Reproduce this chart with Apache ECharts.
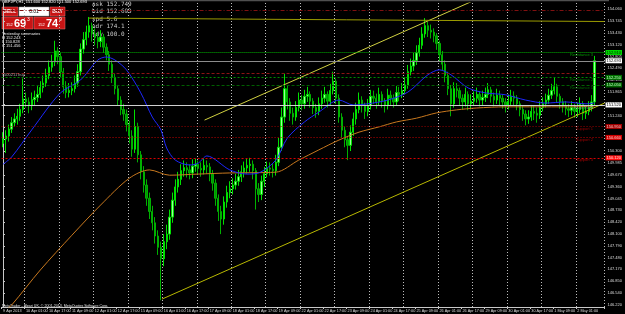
<!DOCTYPE html>
<html><head><meta charset="utf-8">
<script src="https://cdn.jsdelivr.net/npm/echarts@6/dist/echarts.min.js"></script>
<style>html,body{margin:0;padding:0;background:#000;}#c{width:625px;height:314px;}</style>
</head><body><div id="c"></div><script>
// ---------- DATA ----------
const tradingDays = ['9 Apr','10 Apr','11 Apr','12 Apr','15 Apr','16 Apr','17 Apr','18 Apr','19 Apr','22 Apr','23 Apr','24 Apr','25 Apr','26 Apr','29 Apr','30 Apr','1 May','2 May'];
const firstLabel = '9 Apr 2013';

const openP = [150.50,150.62,150.70,150.88,151.05,151.15,151.22,151.40,151.68,151.60,
151.50,151.66,151.72,151.80,151.98,152.10,152.30,152.52,152.66,152.95,
152.80,152.40,152.00,151.85,151.90,151.95,152.10,152.40,153.00,153.25,
153.45,153.62,153.40,153.30,153.20,153.32,153.05,152.85,152.60,152.25,
151.95,151.65,151.40,151.28,151.00,150.70,150.35,150.95,150.20,149.75,
149.40,149.05,148.70,148.40,148.05,147.75,147.45,147.90,148.10,148.55,
149.00,149.35,149.55,149.78,149.86,149.80,149.72,149.90,149.95,149.84,
149.80,149.92,149.88,149.70,149.45,149.05,148.70,148.50,148.95,149.20,
149.30,149.40,149.50,149.62,149.75,149.85,149.92,149.95,149.78,149.30,
149.15,149.50,149.70,149.85,149.82,149.78,150.00,150.40,151.20,151.95,
151.60,151.30,151.20,151.45,151.65,151.55,151.75,151.80,151.62,151.45,
151.35,151.55,151.70,151.80,151.62,151.90,152.15,151.70,151.20,150.85,
150.60,150.45,150.80,151.15,151.40,151.65,151.50,151.35,151.50,151.75,
151.70,151.60,151.80,151.62,151.50,151.78,151.70,151.60,151.85,151.80,
151.90,152.05,152.40,152.55,152.70,152.90,153.10,153.40,153.62,153.50,
153.45,153.35,153.15,152.85,152.60,152.30,151.95,151.55,151.95,151.90,
151.70,151.60,151.80,151.55,151.62,151.70,151.80,151.65,151.72,151.80,
151.92,151.75,151.65,151.78,151.70,151.60,151.50,151.62,151.75,151.70,
151.55,151.40,151.28,151.15,151.20,151.35,151.30,151.25,151.45,151.55,
151.65,151.78,151.90,152.00,151.75,151.60,151.50,151.42,151.38,151.45,
151.35,151.40,151.55,151.30,151.35,151.45,151.60];
const closeP = [150.62,150.70,150.88,151.05,151.15,151.22,151.40,151.68,151.60,151.50,
151.66,151.72,151.80,151.98,152.10,152.30,152.52,152.66,152.95,152.80,
152.40,152.00,151.85,151.90,151.95,152.10,152.40,153.00,153.25,153.45,
153.62,153.40,153.30,153.20,153.32,153.05,152.85,152.60,152.25,151.95,
151.65,151.40,151.28,151.00,150.70,150.35,150.95,150.20,149.75,149.40,
149.05,148.70,148.40,148.05,147.75,147.45,147.90,148.10,148.55,149.00,
149.35,149.55,149.78,149.86,149.80,149.72,149.90,149.95,149.84,149.80,
149.92,149.88,149.70,149.45,149.05,148.70,148.50,148.95,149.20,149.30,
149.40,149.50,149.62,149.75,149.85,149.92,149.95,149.78,149.30,149.15,
149.50,149.70,149.85,149.82,149.78,150.00,150.40,151.20,151.95,151.60,
151.30,151.20,151.45,151.65,151.55,151.75,151.80,151.62,151.45,151.35,
151.55,151.70,151.80,151.62,151.90,152.15,151.70,151.20,150.85,150.60,
150.45,150.80,151.15,151.40,151.65,151.50,151.35,151.50,151.75,151.70,
151.60,151.80,151.62,151.50,151.78,151.70,151.60,151.85,151.80,151.90,
152.05,152.40,152.55,152.70,152.90,153.10,153.40,153.62,153.50,153.45,
153.35,153.15,152.85,152.60,152.30,151.95,151.55,151.95,151.90,151.70,
151.60,151.80,151.55,151.62,151.70,151.80,151.65,151.72,151.80,151.92,
151.75,151.65,151.78,151.70,151.60,151.50,151.62,151.75,151.70,151.55,
151.40,151.28,151.15,151.20,151.35,151.30,151.25,151.45,151.55,151.65,
151.78,151.90,152.00,151.75,151.60,151.50,151.42,151.38,151.45,151.35,
151.40,151.55,151.30,151.35,151.45,151.60,152.69];
const highP = [150.80,150.85,151.00,151.20,151.30,151.42,151.55,152.22,151.85,151.72,
151.85,151.90,152.02,152.15,152.30,152.48,152.70,152.85,153.22,153.05,
152.90,152.50,152.15,152.10,152.12,152.30,152.60,153.15,153.45,153.62,
153.85,153.70,153.55,153.45,153.50,153.40,153.15,152.95,152.70,152.35,
152.05,151.75,151.55,151.40,151.10,150.85,151.40,151.05,150.30,149.90,
149.55,149.20,148.85,148.55,148.20,147.90,148.10,148.35,148.75,149.20,
149.55,149.75,149.95,150.05,150.00,149.95,150.08,150.10,150.05,150.00,
150.10,150.05,149.98,149.80,149.55,149.15,148.85,149.10,149.38,149.50,
149.58,149.70,149.80,149.92,150.02,150.10,150.12,150.05,149.85,149.45,
149.65,149.88,150.02,150.00,149.98,150.20,150.65,151.45,152.35,152.05,
151.70,151.45,151.62,151.85,151.78,151.92,152.00,151.88,151.70,151.55,
151.72,151.90,152.00,151.88,152.08,152.40,152.22,151.80,151.30,150.95,
150.70,150.98,151.32,151.58,151.85,151.75,151.58,151.68,151.92,151.90,
151.82,151.98,151.88,151.70,151.95,151.90,151.80,152.02,152.00,152.10,
152.25,152.58,152.75,152.90,153.10,153.30,153.58,153.82,153.72,153.65,
153.55,153.42,153.22,152.95,152.70,152.40,152.05,152.12,152.10,151.98,
151.80,151.98,151.88,151.80,151.88,151.98,151.88,151.90,151.98,152.10,
152.00,151.85,151.95,151.90,151.80,151.70,151.80,151.92,151.88,151.78,
151.62,151.50,151.38,151.38,151.52,151.50,151.45,151.62,151.72,151.82,
151.95,152.08,152.25,152.08,151.82,151.70,151.62,151.55,151.62,151.55,
151.58,151.72,151.62,151.52,151.62,151.78,152.82];
const lowP = [150.40,150.25,150.55,150.78,150.95,151.00,151.10,151.30,151.45,151.30,
151.38,151.50,151.60,151.70,151.85,152.00,152.20,152.40,152.55,152.60,
152.25,151.82,151.70,151.72,151.78,151.85,152.00,152.30,152.88,153.10,
153.30,153.20,153.10,153.02,153.05,152.90,152.70,152.42,152.10,151.80,
151.50,151.25,151.10,150.82,150.50,150.15,150.25,150.00,149.55,149.20,
148.85,148.50,148.20,147.85,147.55,146.35,147.25,147.70,147.95,148.40,
148.85,149.20,149.40,149.62,149.60,149.55,149.58,149.75,149.68,149.62,
149.68,149.70,149.50,149.25,148.85,148.45,148.10,148.35,148.80,149.05,
149.15,149.28,149.38,149.48,149.60,149.70,149.75,149.55,148.75,148.95,
149.00,149.35,149.60,149.65,149.60,149.65,149.90,150.30,151.05,151.40,
151.10,151.00,151.10,151.35,151.38,151.42,151.60,151.45,151.28,151.18,
151.25,151.42,151.58,151.45,151.50,151.80,151.55,151.05,150.65,150.40,
150.06,150.30,150.70,151.00,151.30,151.32,151.15,151.22,151.40,151.55,
151.42,151.50,151.45,151.32,151.40,151.52,151.45,151.50,151.62,151.70,
151.80,151.95,152.30,152.42,152.58,152.80,153.00,153.30,153.32,153.28,
153.18,152.98,152.68,152.42,152.12,151.78,151.22,151.45,151.72,151.50,
151.40,151.48,151.38,151.40,151.50,151.58,151.48,151.52,151.60,151.70,
151.58,151.48,151.55,151.52,151.42,151.32,151.40,151.52,151.50,151.38,
151.22,151.10,150.98,151.02,151.10,151.12,151.05,151.15,151.35,151.45,
151.55,151.68,151.80,151.58,151.42,151.32,151.25,151.20,151.25,151.18,
151.20,151.30,151.12,151.15,151.25,151.35,151.50];

// moving averages: [bar index, price]
const blueMA = [[0,149.95],[3,150.14],[10,150.86],[20,151.84],[27,152.18],[33,152.71],[36,152.79],[39,152.71],[43,152.45],[48,151.84],[52,151.20],[55,150.86],[57,150.38],[60,150.06],[65,149.93],[68,149.98],[71,150.17],[79,149.80],[85,149.69],[89,149.72],[95,150.06],[99,150.64],[105,151.07],[110,151.33],[117,151.65],[122,151.52],[127,151.55],[134,151.65],[141,151.86],[148,152.32],[152,152.45],[156,152.32],[162,151.97],[168,151.84],[175,151.79],[182,151.65],[189,151.57],[196,151.60],[203,151.55],[206,151.57]];
const orangeMA = [[1,146.10],[3,146.22],[13,147.15],[24,148.07],[34,148.87],[44,149.58],[51,149.80],[58,149.66],[68,149.69],[79,149.72],[95,149.74],[103,150.06],[110,150.33],[117,150.59],[124,150.80],[131,150.94],[137,151.07],[144,151.17],[151,151.31],[158,151.39],[165,151.44],[175,151.47],[186,151.47],[196,151.47],[206,151.49]];

// trend lines: [bar index, price]
const trendLower = [[55.4,146.38],[209.5,151.57]];
const trendUpper = [[70.2,151.12],[165,154.32]];
const trendTop = [[29.9,153.82],[209.5,153.73]];

// horizontal levels
const levelNames = ['Resistance 3','Resistance 2','Resistance 1','Pivot Point','Support 1','Support 2','Support 3'];
const levelPrices = [152.91,152.25,152.05,151.52,150.95,150.66,150.12];
const bidPrice = 152.693;
const askPrice = 152.749;
const orderPrice = 152.37;
const orderText = '#500211 buy';
const topLinePrice = 154.04;

const yTicks = [146.220,146.540,146.850,147.170,147.480,147.790,148.100,148.420,148.730,149.045,149.360,149.670,149.985,150.300,150.610,150.925,151.240,151.550,151.865,152.180,152.490,152.805,153.120,153.430,153.745,154.060];

const infoLines = ['ask 152.749','bid 152.693','spd 5.6','adr 174.1','tdy 100.0'];
const summaryLines = ['Yesterday summaries','H 152.243','L 150.828','C 151.456'];
const titleText = 'GBPJPY,H1  151.600 152.820 151.500 152.693';
const copyrightText = 'MetaTrader - Alpari UK, \u00a9 2001-2013, MetaQuotes Software Corp.';

// ---------- BUILD ----------
const categories = [];
tradingDays.forEach((d, di) => {
  const start = di === 0 ? 9 : 1;
  const end = di === tradingDays.length - 1 ? 13 : 23;
  for (let h = start; h <= end; h += 2) categories.push(d + ' ' + String(h).padStart(2, '0') + ':00');
});
const nBars = categories.length;
for (let k = 0; k < 3; k++) categories.push(' '.repeat(k + 1));

const candles = openP.map((o, i) => [o, closeP[i], lowP[i], highP[i]]);

const FONT = 'Liberation Sans';
const labelInterval = (idx) => idx % 8 === 0 && idx < nBars;
const sepInterval = (idx, val) => typeof val === 'string' && val.endsWith(' 01:00');

const levelStyle = [
  {color:'#00b400', type:[1,1], bg:'#00d800', fg:'#002000', name:'#00c000'},
  {color:'#008a00', type:[2,2], bg:'#007000', fg:'#c8ffc8', name:'#009a00'},
  {color:'#006000', type:[3,2], bg:'#006400', fg:'#c8ffc8', name:'#008200'},
  {color:'#d0d0d0', type:'solid', bg:'#ffffff', fg:'#000000', name:'#a0a0a0'},
  {color:'#9a0000', type:[1,2], bg:'#a00000', fg:'#ffc8c8', name:'#b00000'},
  {color:'#c00000', type:[1,2], bg:'#d00000', fg:'#ffd0d0', name:'#c00000'},
  {color:'#d80000', type:[2,2], bg:'#ff1010', fg:'#ffe0e0', name:'#d00000'}
];
const tagLabel = (txt, bg, fg) => ({show:true, position:'end', distance:1, formatter:txt, backgroundColor:bg, color:fg, fontSize:4, fontFamily:FONT, padding:[1,1,0,1]});

const markData = [];
markData.push({yAxis: topLinePrice, lineStyle:{color:'#801010', type:[4,2,1,2], width:1}, label:{show:false}});
markData.push({yAxis: orderPrice, lineStyle:{color:'#8c1414', type:[3,2], width:1}, label:{show:false}});
levelPrices.forEach((p, i) => {
  const s = levelStyle[i];
  markData.push({yAxis:p, lineStyle:{color:s.color, type:s.type, width:1}, label: tagLabel(p.toFixed(3), s.bg, s.fg)});
});
markData.push({yAxis: bidPrice, lineStyle:{color:'#8c8c8c', type:'solid', width:1}, label: tagLabel(bidPrice.toFixed(3), '#ffffff', '#000000')});

const nameData = levelPrices.map((p, i) => ({value:[205.5, p], label:{color: levelStyle[i].name, formatter: levelNames[i]}}));
nameData.push({value:[-0.4, orderPrice], label:{color:'#c8c8c8', formatter: orderText, align:'left'}});

const lineSeries = (data, color, extra) => Object.assign({type:'line', xAxisIndex:1, data, showSymbol:false, symbol:'none', silent:true, lineStyle:{color, width:1}, z:3}, extra || {});

const graphics = [
  {type:'line', shape:{x1:0,y1:0.5,x2:609,y2:0.5}, style:{stroke:'#505050', lineWidth:1.5}},
  {type:'text', left:2, top:0, style:{text:titleText, fill:'#ffffff', font:'4px ' + FONT}},
  {type:'rect', shape:{x:2,y:7,width:16,height:9}, style:{fill:'#c81414', stroke:'#e87070', lineWidth:0.5}},
  {type:'text', x:10, y:11.5, style:{text:'SELL', fill:'#fff', font:'bold 5px ' + FONT, textAlign:'center', textVerticalAlign:'middle'}},
  {type:'rect', shape:{x:19,y:7,width:30,height:9}, style:{fill:'#ffffff', stroke:'#999', lineWidth:0.5}},
  {type:'text', x:34, y:11.5, style:{text:'0.01', fill:'#000', font:'5px ' + FONT, textAlign:'center', textVerticalAlign:'middle'}},
  {type:'rect', shape:{x:50,y:7,width:15,height:9}, style:{fill:'#c81414', stroke:'#e87070', lineWidth:0.5}},
  {type:'text', x:57.5, y:11.5, style:{text:'BUY', fill:'#fff', font:'bold 5px ' + FONT, textAlign:'center', textVerticalAlign:'middle'}},
  {type:'rect', shape:{x:2,y:17,width:31,height:12}, style:{fill:'#c81414', stroke:'#e87070', lineWidth:0.5}},
  {type:'rect', shape:{x:34,y:17,width:31,height:12}, style:{fill:'#c81414', stroke:'#e87070', lineWidth:0.5}},
  {type:'text', x:6, y:25, style:{text:'152', fill:'#fff', font:'4px ' + FONT, textVerticalAlign:'middle'}},
  {type:'text', x:14, y:23.5, style:{text:'69', fill:'#fff', font:'bold 11px ' + FONT, textVerticalAlign:'middle'}},
  {type:'text', x:27, y:20, style:{text:'3', fill:'#fff', font:'5px ' + FONT, textVerticalAlign:'middle'}},
  {type:'text', x:38, y:25, style:{text:'152', fill:'#fff', font:'4px ' + FONT, textVerticalAlign:'middle'}},
  {type:'text', x:46, y:23.5, style:{text:'74', fill:'#fff', font:'bold 11px ' + FONT, textVerticalAlign:'middle'}},
  {type:'text', x:59, y:20, style:{text:'9', fill:'#fff', font:'5px ' + FONT, textVerticalAlign:'middle'}},
  {type:'text', left:2, bottom:6, style:{text:copyrightText, fill:'#e0e0e0', font:'3.6px ' + FONT}}
];
summaryLines.forEach((t, i) => graphics.push({type:'text', x:2, y:34 + i * 4, style:{text:t, fill:'#e8e8e8', font:'4px ' + FONT, textVerticalAlign:'middle'}}));
infoLines.forEach((t, i) => graphics.push({type:'text', x:92, y:4 + i * 7.5, style:{text:t, fill:'#c8c8c8', font:'6px DejaVu Sans Mono', textVerticalAlign:'middle'}}));

const option = {
  backgroundColor:'#000000',
  animation:false,
  grid:{left:0, right:16, top:3, bottom:7},
  xAxis:[{
    type:'category', data:categories, boundaryGap:true,
    axisLine:{lineStyle:{color:'#c8c8c8', width:1}},
    axisTick:{show:true, length:2, interval:labelInterval, lineStyle:{color:'#c8c8c8'}},
    axisLabel:{interval:labelInterval, showMinLabel:true, hideOverlap:false, formatter:(v, i) => (i === 0 || v === categories[0]) ? firstLabel : v, color:'#dcdcdc', fontSize:3.8, fontFamily:FONT, align:'left', margin:2},
    splitLine:{show:true, interval:sepInterval, lineStyle:{color:'#bdbdbd', type:[1,2], width:1}}
  },{
    type:'value', min:-0.5, max:categories.length - 0.5, show:false
  }],
  yAxis:{
    type:'value', position:'right', min:146.17, max:154.22,
    axisLine:{show:true, lineStyle:{color:'#c8c8c8'}},
    axisTick:{show:true, length:2, customValues:yTicks, lineStyle:{color:'#c8c8c8'}},
    axisLabel:{customValues:yTicks, hideOverlap:false, formatter:(v) => Number(v).toFixed(3), color:'#dcdcdc', fontSize:4, fontFamily:FONT, margin:3},
    splitLine:{show:false}
  },
  graphic: graphics,
  series:[
    {type:'candlestick', data:candles, barWidth:1.8, silent:true, z:2,
     itemStyle:{color:'#9cff9c', color0:'#009600', borderColor:'#00e000', borderColor0:'#00b000', borderWidth:1},
     markLine:{symbol:['none','none'], silent:true, animation:false, data:markData}},
    lineSeries(orangeMA, '#c8781e', {smooth:0.3}),
    lineSeries(blueMA, '#1e28ff', {smooth:0.3}),
    lineSeries(trendLower, '#b8b800'),
    lineSeries(trendUpper, '#d0d040'),
    lineSeries(trendTop, '#9c9c00'),
    {type:'scatter', xAxisIndex:1, data:nameData, symbolSize:0, silent:true, z:5,
     label:{show:true, position:'bottom', distance:0.5, align:'right', fontSize:4, fontFamily:FONT}}
  ]
};
const chart = echarts.init(document.getElementById('c'));
chart.setOption(option);
</script></body></html>
